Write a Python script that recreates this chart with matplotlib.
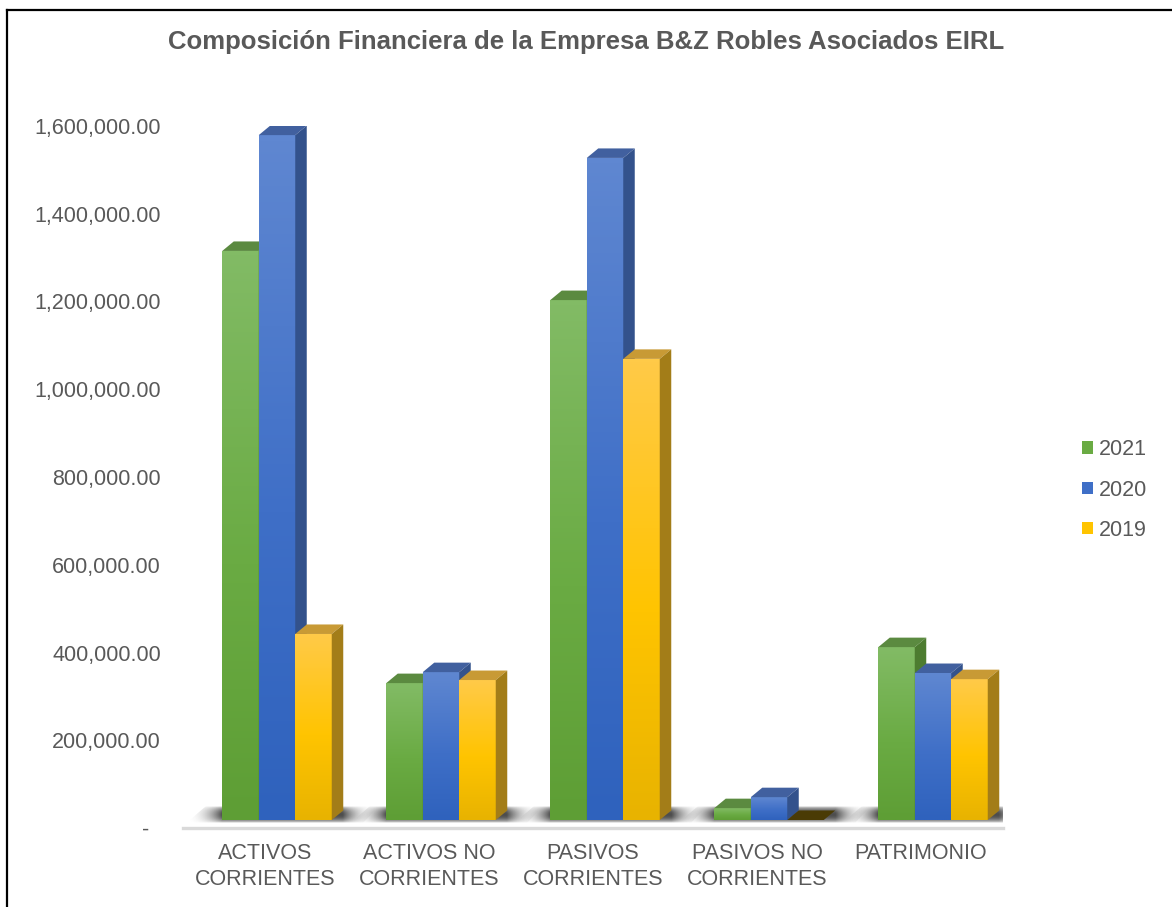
import numpy as np
import matplotlib
matplotlib.use("Agg")
import matplotlib.pyplot as plt
from matplotlib.patches import Rectangle, Polygon, Patch
from matplotlib.colors import LinearSegmentedColormap
from matplotlib.lines import Line2D

plt.rcParams['font.family'] = ['Liberation Sans', 'DejaVu Sans']

# data
categories = ["ACTIVOS\nCORRIENTES", "ACTIVOS NO\nCORRIENTES", "PASIVOS\nCORRIENTES",
              "PASIVOS NO\nCORRIENTES", "PATRIMONIO"]
years = ["2021", "2020", "2019"]
v2021 = [1297000, 312000, 1185000, 27000, 394000]
v2020 = [1561000, 337000, 1509000, 52000, 335000]
v2019 = [424000, 319000, 1051000, 0, 321000]
yticks = [0, 200000, 400000, 600000, 800000, 1000000, 1200000, 1400000, 1600000]

series = [v2021, v2020, v2019]
# front gradient (top, mid, bottom), top face, side face
styles = [
    (("#82bb65", "#6aab43", "#5e9e35"), "#5b8a40", "#4d7c30"),
    (("#5f87d1", "#3f6fc7", "#2f62bd"), "#41609f", "#33528c"),
    (("#ffca48", "#ffc400", "#e8b300"), "#c89a35", "#a37d18"),
]
zero_top = "#4a3b05"
txt = "#595959"
fs = 15.5

W, H = 1172, 907
fig = plt.figure(figsize=(W / 100, H / 100), dpi=100)
ax = fig.add_axes([183 / W, (H - 828) / H, 820 / W, (828 - 126) / H])
ax.set_xlim(-0.5, 4.5)
ax.set_ylim(0, 1600000)

px_x = 1 / 164.0
px_y = 200000 / 87.75
sx, sy = 12 * px_x, 8 * px_y        # bars sit back from the floor edge
dx, dy = 11.5 * px_x, 9.5 * px_y    # depth of each column
bw = 36.5 * px_x

# soft floor shadows under each group
for i in range(len(categories)):
    gl = i + sx - 1.5 * bw
    gr = i + sx + 1.5 * bw + dx
    pad = 36 * px_x
    xs = np.linspace(gl - pad, gr + pad, 300)
    ys = np.linspace(0, 1, 40)
    d = np.maximum(gl - xs, xs - gr)
    ah = np.clip(1 - d / pad, 0, 1) ** 2.2
    av = np.sin(np.pi * ys) ** 0.6
    img = np.zeros((len(ys), len(xs), 4))
    img[..., :3] = 0.18
    img[..., 3] = 0.85 * av[:, None] * ah[None, :]
    y0, y1 = sy - 3 * px_y, sy + 14 * px_y
    shp = Polygon([(gl - pad, y0), (gr + pad * 0.55, y0),
                   (gr + pad, y1), (gl - pad * 0.45, y1)],
                  closed=True, transform=ax.transData, facecolor="none", edgecolor="none")
    ax.add_patch(shp)
    im = ax.imshow(img, extent=[gl - pad, gr + pad, y0, y1],
                   aspect="auto", interpolation="bilinear", zorder=1)
    im.set_clip_path(shp)

z = 2
for i in range(len(categories)):
    for k, vals in enumerate(series):
        grad, topc, sidec = styles[k]
        v = vals[i]
        x0 = i + sx - 1.5 * bw + k * bw
        x1 = x0 + bw
        b = sy
        t = sy + v
        if v == 0:
            ax.add_patch(Polygon([(x0, t), (x1, t), (x1 + dx, t + dy), (x0 + dx, t + dy)],
                                 closed=True, facecolor=zero_top, edgecolor="none", zorder=z))
            z += 1
            continue
        rect = Rectangle((x0, b), bw, v, facecolor="none", edgecolor="none", zorder=z)
        ax.add_patch(rect)
        cmap = LinearSegmentedColormap.from_list("g", [(0, grad[2]), (0.45, grad[1]), (1, grad[0])])
        g = np.linspace(1, 0, 100).reshape(-1, 1)
        im = ax.imshow(g, cmap=cmap, vmin=0, vmax=1, extent=[x0, x1, b, t],
                       aspect="auto", interpolation="bilinear", zorder=z)
        im.set_clip_path(rect)
        ax.add_patch(Polygon([(x0, t), (x1, t), (x1 + dx, t + dy), (x0 + dx, t + dy)],
                             closed=True, facecolor=topc, edgecolor="none", zorder=z))
        ax.add_patch(Polygon([(x1, b), (x1 + dx, b + dy), (x1 + dx, t + dy), (x1, t)],
                             closed=True, facecolor=sidec, edgecolor="none", zorder=z))
        z += 1

ax.set_xlim(-0.5, 4.5)
ax.set_ylim(0, 1600000)

for s in ax.spines.values():
    s.set_visible(False)
ax.axhline(0, color="#d9d9d9", lw=2.4, zorder=0, clip_on=False)

ax.set_yticks(yticks)
ax.set_yticklabels([f"{t:,.2f}" if t else "-  " for t in yticks])
ax.set_xticks(range(len(categories)))
ax.set_xticklabels(categories, linespacing=1.3)
ax.tick_params(length=0, labelsize=fs, labelcolor=txt)
ax.tick_params(axis="y", pad=16)
ax.tick_params(axis="x", pad=11)

fig.text(0.5, 1 - 42 / H, "Composición Financiera de la Empresa B&Z Robles Asociados EIRL",
         ha="center", va="center", fontsize=18.5, fontweight="bold", color=txt)

handles = [Patch(facecolor=styles[k][0][1], edgecolor="none") for k in range(3)]
fig.legend(handles, years, loc="center left", bbox_to_anchor=(1082 / W, 1 - 490 / H),
           frameon=False, fontsize=fs, labelcolor=txt, handlelength=0.5,
           handleheight=0.5, handletextpad=0.3, labelspacing=0.9, borderpad=0,
           borderaxespad=0)

# outer frame (top and left edges visible)
fig.add_artist(Line2D([7 / W, 1], [1 - 10 / H, 1 - 10 / H], color="black", lw=1.6))
fig.add_artist(Line2D([7 / W, 7 / W], [0, 1 - 10 / H], color="black", lw=1.6))

fig.savefig("out.png", dpi=100)
